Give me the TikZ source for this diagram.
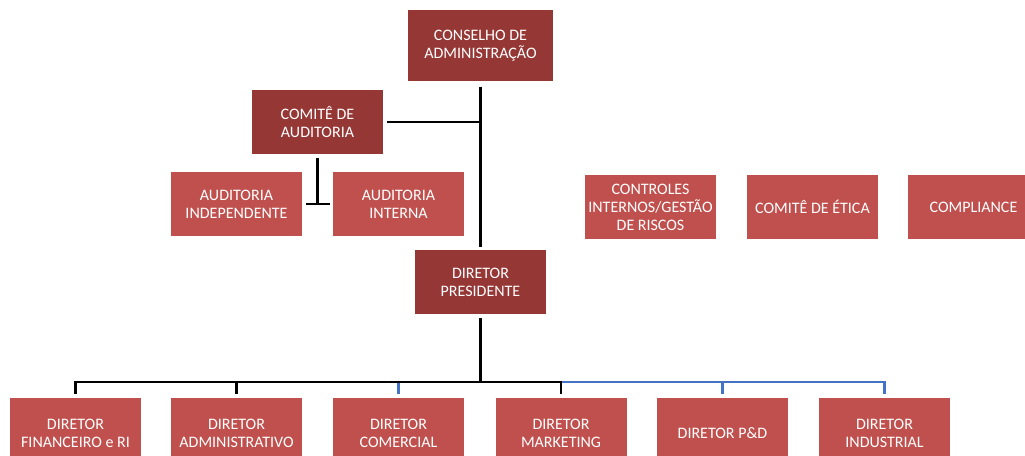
\documentclass[tikz,border=0pt]{standalone}
\usepackage{fontspec}
\setmainfont{Carlito}
\definecolor{BoardRed}{RGB}{149,55,53}
\definecolor{UnitRed}{RGB}{192,80,77}
\definecolor{LinkBlue}{RGB}{68,114,196}

\begin{document}
\begin{tikzpicture}[x=0.75pt,y=-0.75pt,
      box/.style={fill=UnitRed,text=white,minimum width=98.25pt,minimum height=48pt,
                  align=center,font=\fontsize{12}{13.5}\selectfont,inner sep=1pt},
      head/.style={box,fill=BoardRed},
      tree/.style={line width=1.6pt,draw=black},
      bluetree/.style={tree,draw=LinkBlue}]
    \clip (0,0) rectangle (1025,456);
    \node[head,minimum width=108.75pt,minimum height=53.25pt] (conselho) at (480.5,45.5) {CONSELHO DE\\ADMINISTRAÇÃO};
    \node[head] (comite) at (317.5,122) {COMITÊ DE\\AUDITORIA};
    \node[box] (audind) at (236.5,204) {AUDITORIA\\INDEPENDENTE};
    \node[box] (audint) at (398.5,204) {AUDITORIA\\INTERNA};
    \node[head] (pres) at (480.5,282) {DIRETOR\\PRESIDENTE};
    \node[box] (controles) at (650.5,207) {CONTROLES\\INTERNOS/GESTÃO\\DE RISCOS};
    \node[box] (etica) at (812.5,207) {COMITÊ DE ÉTICA};
    \node[box] (compliance) at (973.5,207) {COMPLIANCE};
    \tikzset{box/.append style={minimum height=52.5pt}}
    \node[box] (d1) at (75.5,433) {DIRETOR\\FINANCEIRO e RI};
    \node[box] (d2) at (236.5,433) {DIRETOR\\ADMINISTRATIVO};
    \node[box] (d3) at (398.5,433) {DIRETOR\\COMERCIAL};
    \node[box] (d4) at (561,433) {DIRETOR\\MARKETING};
    \node[box] (d5) at (722.5,433) {DIRETOR P\&D};
    \node[box] (d6) at (884.5,433) {DIRETOR\\INDUSTRIAL};
    % board to president, audit committee
    \draw[tree] ([yshift=-4pt]conselho.south) -- ([yshift=2pt]pres.north);
    \draw[tree] ([xshift=3pt]comite.east) -- (comite.east -| conselho.south);
    \draw[tree] ([yshift=-2.5pt]comite.south) -- (comite.south |- audind.east);
    \draw[tree] ([xshift=3pt]audind.east) -- ([xshift=-2pt]audint.west);
    % directors
    \coordinate (bus) at (480.5,382);
    \draw[bluetree] (d4.north |- bus) -| ([yshift=2.5pt]d6.north);
    \draw[bluetree] (d5.north |- bus) -- ([yshift=2.5pt]d5.north);
    \draw[bluetree] (d3.north |- bus) -- ([yshift=2.5pt]d3.north);
    \draw[tree] ([yshift=-3pt]pres.south) -- (bus);
    \draw[tree] (bus) -| ([yshift=2.5pt]d1.north);
    \draw[tree] (bus) -| ([yshift=2.5pt]d4.north);
    \draw[tree] (d2.north |- bus) -- ([yshift=2.5pt]d2.north);
\end{tikzpicture}
\end{document}
